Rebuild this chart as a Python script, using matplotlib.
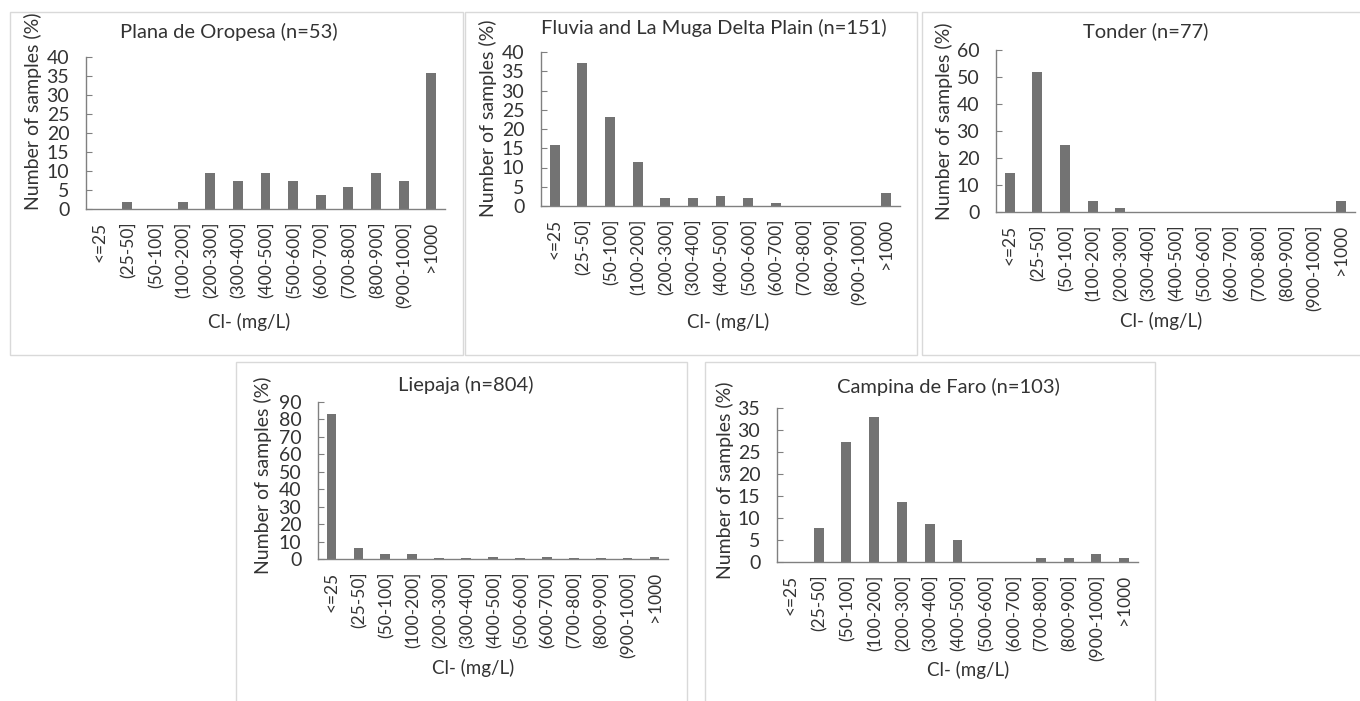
import numpy as np
import matplotlib.pyplot as plt
from matplotlib.patches import Rectangle

plt.rcParams['font.family'] = ['Lato', 'DejaVu Sans']

# --- data: percentage of samples per chloride class ---
classes = ['<=25', '(25-50]', '(50-100]', '(100-200]', '(200-300]', '(300-400]',
           '(400-500]', '(500-600]', '(600-700]', '(700-800]', '(800-900]',
           '(900-1000]', '>1000']

oropesa = [0, 1.9, 0, 1.9, 9.4, 7.5, 9.4, 7.5, 3.8, 5.7, 9.4, 7.5, 35.8]
fluvia = [15.9, 37.1, 23.2, 11.3, 2.0, 2.0, 2.6, 2.0, 0.7, 0, 0, 0, 3.3]
tonder = [14.3, 51.9, 24.7, 3.9, 1.3, 0, 0, 0, 0, 0, 0, 0, 3.9]
liepaja = [83.0, 6.3, 3.1, 2.7, 0.8, 0.4, 0.9, 0.8, 1.2, 0.5, 0.4, 0.3, 1.1]
faro = [0, 7.8, 27.2, 33.0, 13.6, 8.7, 4.9, 0, 0, 1.0, 1.0, 1.9, 1.0]

titles = ['Plana de Oropesa (n=53)', 'Fluvia and La Muga Delta Plain (n=151)',
          'Tonder (n=77)', 'Liepaja (n=804)', 'Campina de Faro (n=103)']
series = [oropesa, fluvia, tonder, liepaja, faro]
ymax = [40, 40, 60, 90, 35]
ystep = [5, 5, 10, 10, 5]

W, H = 1360, 701
fig = plt.figure(figsize=(W / 100, H / 100), dpi=100)

# panel frames (pixels: x0, y0, x1, y1) and axes boxes (pixels)
frames = [(10, 12, 463, 355), (465, 12, 917, 355), (922, 12, 1362, 355),
          (236, 362, 687, 703), (705, 362, 1155, 703)]
axboxes = [(86, 57, 445, 209), (541, 52, 900, 206), (996, 50, 1355, 212),
           (318, 402, 668, 559), (777, 408, 1138, 562)]
# label centres in pixels
title_pos = [(229, 32), (714, 28), (1146, 31), (466, 385), (948, 387)]
ylab_pos = [(33, 111), (488, 118), (944, 121), (263, 475), (725, 480)]
xlab_pos = [(249, 322), (728, 322), (1161, 321), (473, 668), (968, 670)]

txt = '#333333'
for i in range(5):
    fx0, fy0, fx1, fy1 = frames[i]
    fig.patches.append(Rectangle((fx0 / W, 1 - fy1 / H), (fx1 - fx0) / W, (fy1 - fy0) / H,
                                 transform=fig.transFigure, fill=False,
                                 edgecolor='#d9d9d9', linewidth=1.0))
    x0, y0, x1, y1 = axboxes[i]
    ax = fig.add_axes([x0 / W, 1 - y1 / H, (x1 - x0) / W, (y1 - y0) / H])
    x = np.arange(len(classes))
    ax.bar(x, series[i], width=0.36, color='#737373')
    ax.set_xlim(-0.5, len(classes) - 0.5)
    ax.set_ylim(0, ymax[i])
    ax.set_yticks(np.arange(0, ymax[i] + 1, ystep[i]))
    ax.set_xticks(x)
    ax.set_xticklabels(classes, rotation=90, fontsize=12.5, color=txt)
    ax.tick_params(axis='x', length=0, pad=9)
    ax.tick_params(axis='y', direction='in', length=4, color='#808080',
                   labelsize=14, labelcolor=txt, pad=12)
    for s in ['top', 'right']:
        ax.spines[s].set_visible(False)
    for s in ['left', 'bottom']:
        ax.spines[s].set_color('#808080')
        ax.spines[s].set_linewidth(1.0)

    def to_axes(px, py):
        return (px - x0) / (x1 - x0), (y1 - py) / (y1 - y0)

    ax.set_ylabel('Number of samples (%)', fontsize=14, color=txt, va='center')
    ax.yaxis.set_label_coords(*to_axes(*ylab_pos[i]))
    ax.set_xlabel('Cl- (mg/L)', fontsize=13.5, color=txt, va='center')
    ax.xaxis.set_label_coords(*to_axes(*xlab_pos[i]))
    tx, ty = to_axes(*title_pos[i])
    ax.text(tx, ty, titles[i], transform=ax.transAxes, fontsize=14.5, color=txt,
            ha='center', va='center')

fig.savefig('out.png', dpi=100)
